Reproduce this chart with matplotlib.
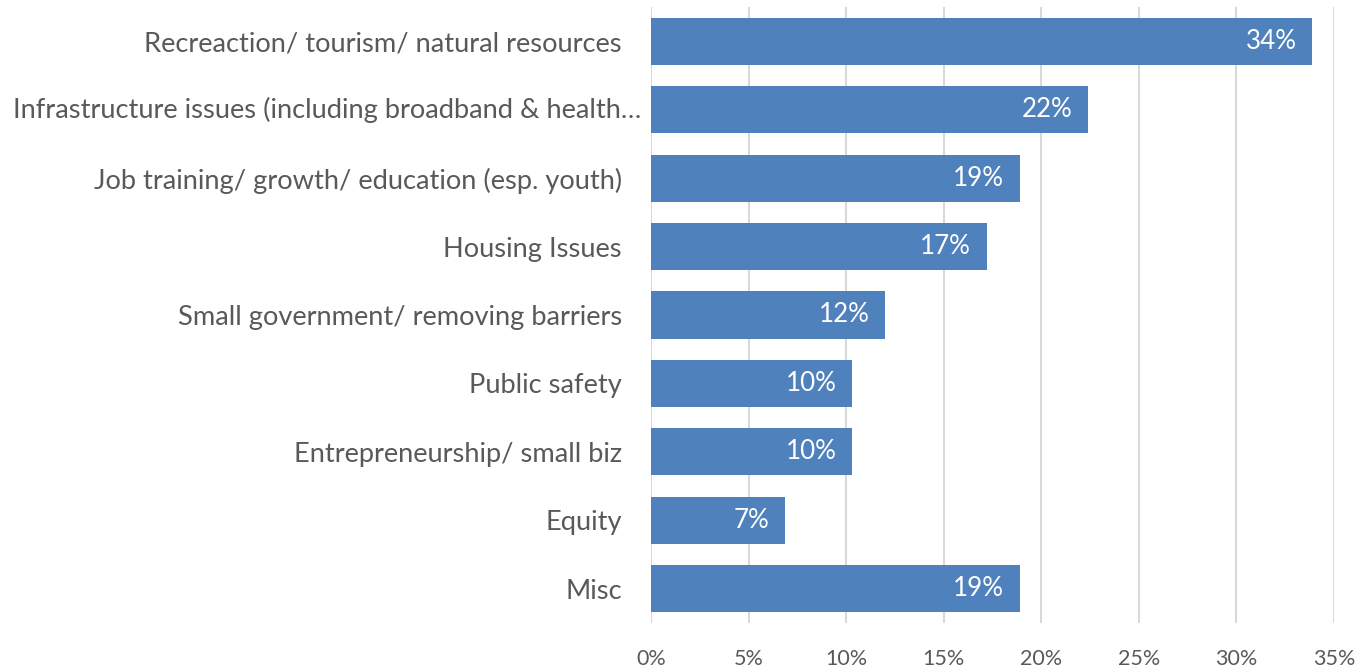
import matplotlib
matplotlib.use("Agg")
import matplotlib.pyplot as plt
import matplotlib.transforms as mtransforms
from matplotlib.ticker import FuncFormatter

categories = [
    "Recreaction/ tourism/ natural resources",
    "Infrastructure issues (including broadband & health\u2026",
    "Job training/ growth/ education (esp. youth)",
    "Housing Issues",
    "Small government/ removing barriers",
    "Public safety",
    "Entrepreneurship/ small biz",
    "Equity",
    "Misc",
]
values = [33.9, 22.4, 18.9, 17.2, 12.0, 10.3, 10.3, 6.85, 18.9]
x_ticks = [0, 5, 10, 15, 20, 25, 30, 35]

plt.rcParams['font.family'] = ['Lato', 'DejaVu Sans']

fig = plt.figure(figsize=(13.69, 6.68), dpi=100)
ax = fig.add_axes([0.4755, 0.0674, 0.9744 - 0.4755, 0.9895 - 0.0674])

bar_color = "#4F81BD"
label_color = "#595959"
cat_size = 19.6
y = list(range(len(categories)))
ax.barh(y, values, height=0.69, color=bar_color, zorder=3)
ax.set_ylim(len(categories) - 0.5, -0.5)
ax.set_xlim(0, 35)
ax.set_xticks(x_ticks)
ax.xaxis.set_major_formatter(FuncFormatter(lambda v, p: f"{int(v)}%"))
ax.set_yticks(y)
# long truncated label overflows toward the plot in the reference; draw it separately
ytick_labels = [c if i != 1 else "" for i, c in enumerate(categories)]
ax.set_yticklabels(ytick_labels)

for s in ax.spines.values():
    s.set_visible(False)
ax.grid(axis='x', color="#D9D9D9", linewidth=1.5, zorder=0)
ax.tick_params(axis='y', length=0, pad=21, labelsize=cat_size, labelcolor=label_color)
ax.tick_params(axis='x', length=0, pad=19, labelsize=15.5, labelcolor=label_color)

trans = mtransforms.blended_transform_factory(ax.transAxes, ax.transData) + \
    mtransforms.ScaledTranslation(-10 / 100, 0, fig.dpi_scale_trans)
ax.text(0, 1, categories[1], transform=trans, ha='right', va='center',
        fontsize=cat_size, color=label_color)

for yi, v in zip(y, values):
    ax.text(v - 0.8, yi, f"{round(v):d}%", ha='right', va='center',
            color='white', fontsize=18.7, zorder=4)

fig.savefig("out.png", dpi=100)
